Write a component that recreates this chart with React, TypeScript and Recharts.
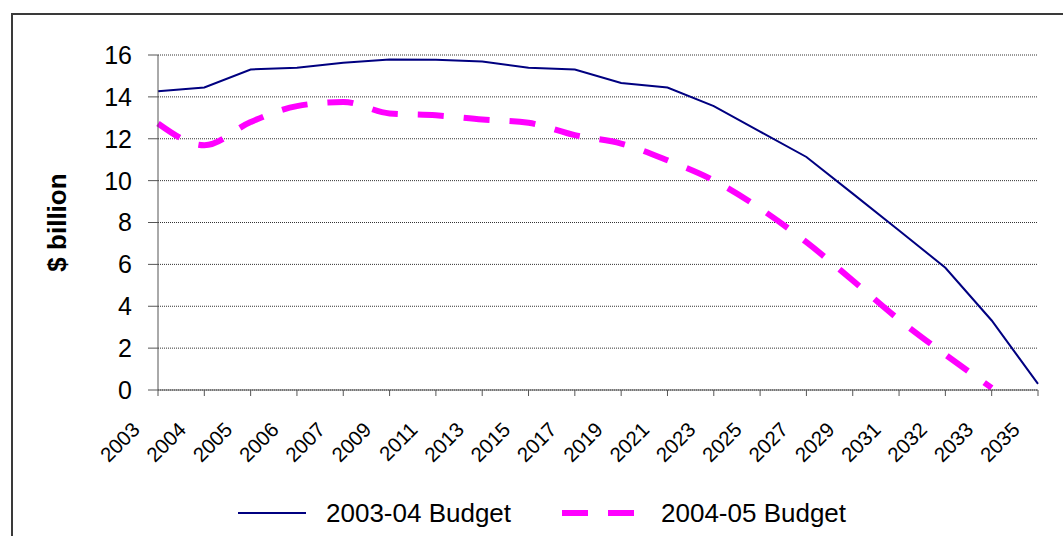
import React from 'react';
import { LineChart, Line, XAxis, YAxis, CartesianGrid, Legend } from 'recharts';

// projection years (category axis, not evenly spaced)
const years = [
  '2003', '2004', '2005', '2006', '2007', '2009', '2011', '2013', '2015', '2017',
  '2019', '2021', '2023', '2025', '2027', '2029', '2031', '2032', '2033', '2035',
];

// $ billion
const budget0304 = [
  14.27, 14.45, 15.31, 15.39, 15.63, 15.79, 15.77, 15.69, 15.39, 15.31,
  14.66, 14.45, 13.56, 12.34, 11.13, 9.38, 7.62, 5.84, 3.32, 0.29,
];
const budget0405: (number | null)[] = [
  12.73, 11.69, 12.8, 13.56, 13.76, 13.21, 13.12, 12.92, 12.76, 12.17,
  11.77, 10.97, 10.01, 8.67, 7.06, 5.23, 3.36, 1.69, 0.1, null,
];

const yTicks = [0, 2, 4, 6, 8, 10, 12, 14, 16];

const data = years.map((year, i) => ({ year, b0304: budget0304[i], b0405: budget0405[i] }));

const FONT = '"Liberation Sans", Arial, sans-serif';
const NAVY = '#000080';
const PINK = '#FF00FF';
const AXIS = '#555';

function YearTick(props: any) {
  const { x, y, payload } = props;
  const tx = x - 17;
  const ty = y + 33;
  return (
    <text x={tx} y={ty} transform={`rotate(-45, ${tx}, ${ty})`} textAnchor="end"
      fontSize={20.5} fontFamily={FONT} fill="#000">
      {payload.value}
    </text>
  );
}

function renderYLabel(props: any) {
  const vb = props.viewBox || { x: 0, y: 55, width: 158, height: 334 };
  const cx = vb.x + 66;
  const cy = vb.y + vb.height / 2;
  return (
    <text x={cx} y={cy} transform={`rotate(-90, ${cx}, ${cy})`} textAnchor="middle"
      fontSize={26} fontWeight="bold" fontFamily={FONT} fill="#000">
      $ billion
    </text>
  );
}

function BudgetLegend() {
  return (
    <svg width={1063} height={46} style={{ display: 'block' }}>
      <line x1={238} x2={306} y1={23} y2={23} stroke={NAVY} strokeWidth={2} />
      <text x={326} y={23} dy="0.355em" fontSize={26} fontFamily={FONT} fill="#000">2003-04 Budget</text>
      <line x1={562} x2={634} y1={23} y2={23} stroke={PINK} strokeWidth={6} strokeDasharray="26 20" />
      <text x={661} y={23} dy="0.355em" fontSize={26} fontFamily={FONT} fill="#000">2004-05 Budget</text>
    </svg>
  );
}

export default function App() {
  return (
    <div style={styles.page}>
      <div style={styles.frame} />
      <LineChart width={1063} height={536} data={data} margin={{ top: 55, right: 25, bottom: 0, left: 0 }}>
        <CartesianGrid vertical={false} stroke="#333" strokeDasharray="1 1" />
        <XAxis dataKey="year" height={100} interval={0} tickSize={6}
          tick={YearTick} axisLine={{ stroke: AXIS }} tickLine={{ stroke: AXIS }} />
        <YAxis width={158} domain={[0, 16]} ticks={yTicks} interval={0} tickSize={10} tickMargin={16}
          axisLine={{ stroke: AXIS }} tickLine={{ stroke: AXIS }}
          tick={{ fontSize: 25, fill: '#000', fontFamily: FONT }}
          label={renderYLabel} />
        <Legend verticalAlign="bottom" height={46} content={BudgetLegend}
          wrapperStyle={{ left: 0, bottom: 0, width: 1063, height: 46 }} />
        <Line type="linear" dataKey="b0304" stroke={NAVY} strokeWidth={2} dot={false} isAnimationActive={false} />
        <Line type="monotone" dataKey="b0405" stroke={PINK} strokeWidth={6} strokeDasharray="26 20"
          dot={false} isAnimationActive={false} />
      </LineChart>
    </div>
  );
}

const styles: Record<string, React.CSSProperties> = {
  page: {
    position: 'absolute', left: 0, top: 0, width: 1063, height: 536,
    overflow: 'hidden', background: '#fff', fontFamily: FONT,
  },
  frame: {
    position: 'absolute', left: 11, top: 13, width: 1200, height: 700,
    borderTop: '2px solid #3a3a3a', borderLeft: '2px solid #3a3a3a',
  },
};
